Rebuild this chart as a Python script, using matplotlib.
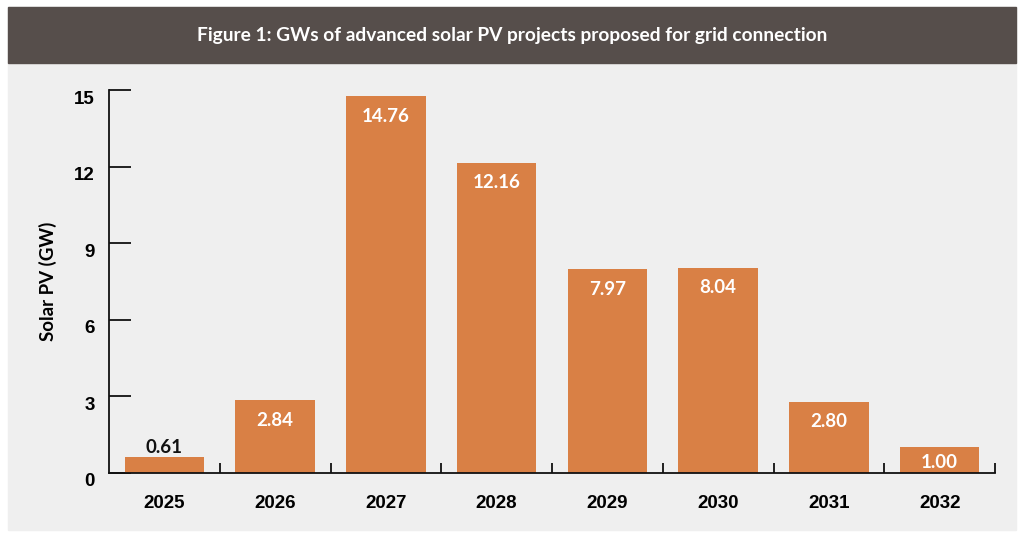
import numpy as np
import matplotlib.pyplot as plt
import matplotlib.transforms as mtransforms
from matplotlib.patches import Rectangle

# data
years = ["2025", "2026", "2027", "2028", "2029", "2030", "2031", "2032"]
solar_gw = [0.61, 2.84, 14.76, 12.16, 7.97, 8.04, 2.80, 1.00]
y_ticks = [0, 3, 6, 9, 12, 15]

bar_color = "#d98045"
panel_color = "#efefef"
title_color = "#564e4b"

W, H = 1024, 536
fig = plt.figure(figsize=(W / 100, H / 100), dpi=100)
fig.patch.set_facecolor("white")

# grey panel and dark title strip (pixel coords converted to figure fractions)
fig.patches.append(Rectangle((8 / W, (H - 530) / H), 1008 / W, 523 / H,
                             transform=fig.transFigure, color=panel_color, zorder=-2))
fig.patches.append(Rectangle((8 / W, (H - 63) / H), 1008 / W, 56 / H,
                             transform=fig.transFigure, color=title_color, zorder=-1))
fig.text(512 / W, 1 - 36 / H, "Figure 1: GWs of advanced solar PV projects proposed for grid connection",
         ha="center", va="center", color="white", fontsize=13.8, fontweight="bold", family="Lato")

ax = fig.add_axes([109 / W, (H - 473) / H, (995 - 109) / W, (473 - 90) / H])
ax.set_facecolor("none")

x = np.arange(len(years))
bars = ax.bar(x, solar_gw, width=0.72, color=bar_color, zorder=2)

# value labels: inside the bar (white) unless the bar is too short
for xi, v in zip(x, solar_gw):
    if v < 0.8:
        ax.annotate(f"{v:.2f}", (xi, v), xytext=(0, 7), textcoords="offset points",
                    ha="center", va="center", fontsize=13.5, fontweight="bold",
                    family="Lato", color="#111111")
    else:
        ax.text(xi, v - min(0.78, v * 0.6), f"{v:.2f}",
                ha="center", va="center", fontsize=13.5, fontweight="bold",
                family="Lato", color="white", zorder=3)

ax.set_xlim(-0.5, len(years) - 0.5)
ax.set_ylim(0, 15)
ax.set_yticks(y_ticks)
ax.set_yticklabels([str(t) for t in y_ticks], fontsize=13.5, fontweight="bold", family="Liberation Sans")
ax.set_xticks(x)
ax.set_xticklabels(years, fontsize=13.5, fontweight="bold", family="Liberation Sans")
ax.set_xticks(np.arange(0.5, len(years)), minor=True)

ax.tick_params(axis="y", direction="in", length=16, width=1.3, pad=10, color="#111111")
ax.tick_params(axis="x", which="major", length=0, pad=16)
ax.tick_params(axis="x", which="minor", direction="in", length=7, width=1.3, color="#111111")

# y labels sit a little below their ticks in the reference
shift = mtransforms.ScaledTranslation(0, -7 / 100, fig.dpi_scale_trans)
for lab in ax.get_yticklabels():
    lab.set_transform(lab.get_transform() + shift)

for s in ["top", "right"]:
    ax.spines[s].set_visible(False)
for s in ["left", "bottom"]:
    ax.spines[s].set_linewidth(1.3)
    ax.spines[s].set_color("#111111")

ax.set_ylabel("Solar PV (GW)", fontsize=13.5, fontweight="bold", family="Lato")
ax.yaxis.set_label_coords((57 - 109) / 886, 0.5)

fig.savefig("out.png", dpi=100, facecolor=fig.get_facecolor())
